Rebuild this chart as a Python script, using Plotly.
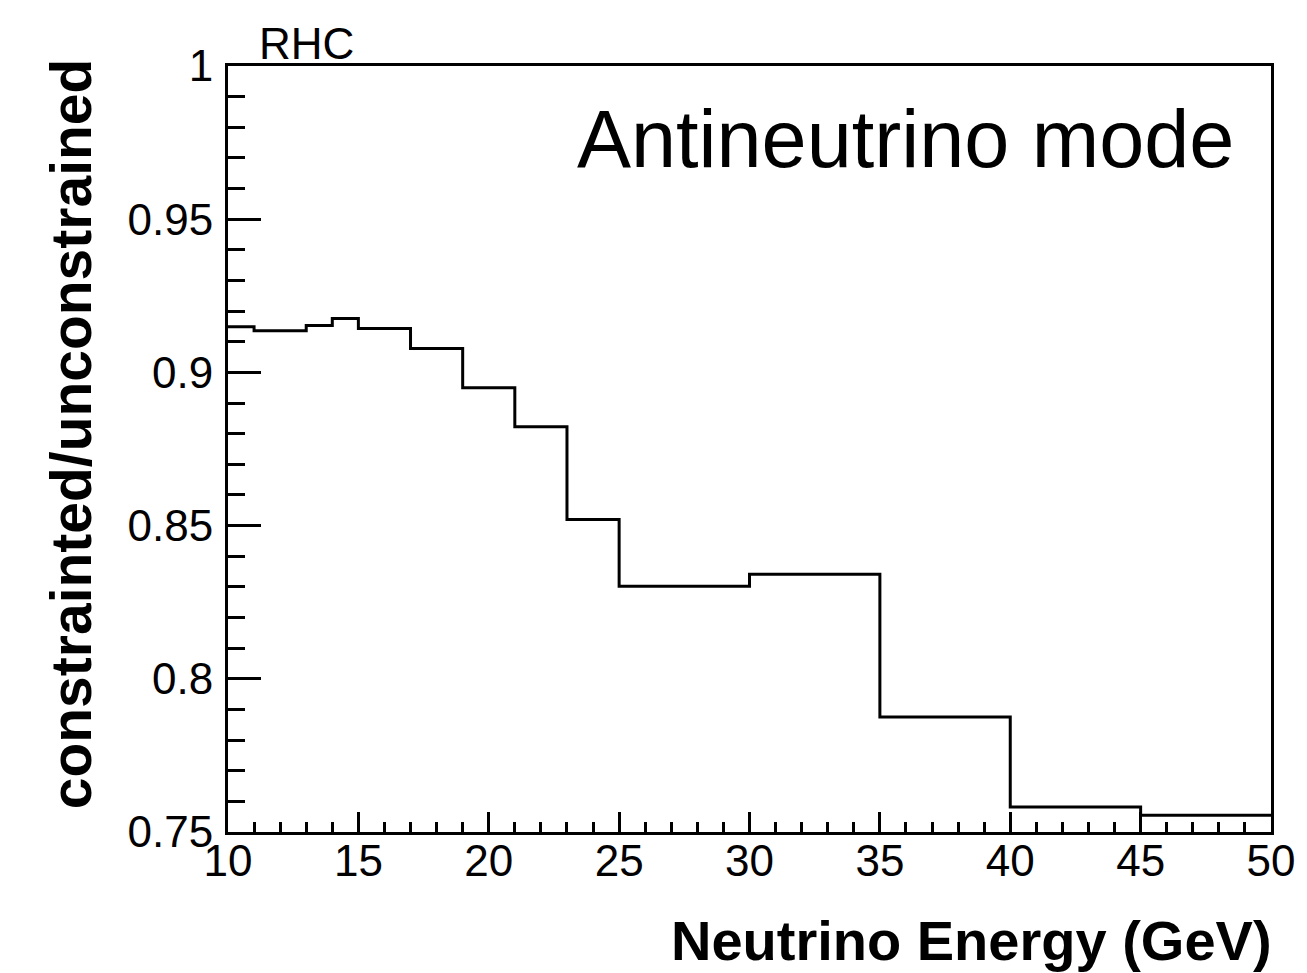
import plotly.graph_objects as go

# Bin edges (GeV) and ratio values per bin
bin_edges = [10, 11, 13, 14, 15, 17, 19, 21, 23, 25, 30, 35, 40, 45, 50]
ratio_values = [0.9149, 0.9136, 0.9153, 0.9176, 0.9143, 0.9078, 0.8950,
                0.8823, 0.8520, 0.8302, 0.8341, 0.7875, 0.7582, 0.7555]
x_tick_vals = [10, 15, 20, 25, 30, 35, 40, 45, 50]
x_tick_text = ["10", "15", "20", "25", "30", "35", "40", "45", "50"]
y_tick_vals = [0.75, 0.8, 0.85, 0.9, 0.95, 1.0]
y_tick_text = ["0.75", "0.8", "0.85", "0.9", "0.95", "1"]

x_title = "Neutrino Energy (GeV)"
y_title = "constrainted/unconstrained"
corner_label = "RHC"
mode_label = "Antineutrino mode"

W, H = 1307, 973
ML, MR, MT, MB = 228, 31, 66, 141
PW = W - ML - MR
PH = H - MT - MB

fig = go.Figure()
fig.add_trace(go.Scatter(
    x=bin_edges,
    y=ratio_values + [ratio_values[-1]],
    mode="lines",
    line=dict(shape="hv", color="black", width=3),
    showlegend=False,
    hoverinfo="skip",
))

tick_font = dict(family="Liberation Sans, Arial, sans-serif", size=44, color="black")

fig.update_layout(
    width=W, height=H, autosize=False,
    margin=dict(l=ML, r=MR, t=MT, b=MB, pad=0),
    paper_bgcolor="white", plot_bgcolor="white",
    xaxis=dict(
        range=[10, 50], tickmode="array", tickvals=x_tick_vals, ticktext=x_tick_text,
        ticks="inside", ticklen=20, tickwidth=2.5, tickcolor="black",
        minor=dict(dtick=1, ticks="inside", ticklen=10, tickwidth=2.5, tickcolor="black", showgrid=False),
        showline=True, linewidth=3, linecolor="black", mirror=True,
        showgrid=False, zeroline=False, tickfont=tick_font, ticklabelstandoff=-12,
    ),
    yaxis=dict(
        range=[0.75, 1.0], tickmode="array", tickvals=y_tick_vals, ticktext=y_tick_text,
        ticks="inside", ticklen=33, tickwidth=2.5, tickcolor="black",
        minor=dict(dtick=0.01, tick0=0.75, ticks="inside", ticklen=17, tickwidth=2.5, tickcolor="black", showgrid=False),
        showline=True, linewidth=3, linecolor="black", mirror=True,
        showgrid=False, zeroline=False, tickfont=tick_font, ticklabelstandoff=3,
    ),
)

def px_to_paper_x(px):
    return (px - ML) / PW

def px_to_paper_y(py):
    return (H - MB - py) / PH

# Axis titles
fig.add_annotation(
    text="<b>" + x_title + "</b>", xref="paper", yref="paper",
    x=px_to_paper_x(1279), y=px_to_paper_y(940), xanchor="right", yanchor="middle",
    showarrow=False, font=dict(family="Liberation Sans, Arial, sans-serif", size=56, color="black"),
)
fig.add_annotation(
    text="<b>" + y_title + "</b>", xref="paper", yref="paper",
    x=px_to_paper_x(70), y=px_to_paper_y(56), xanchor="center", yanchor="top",
    textangle=-90, showarrow=False,
    font=dict(family="Liberation Sans, Arial, sans-serif", size=57, color="black"),
)
# Corner label
fig.add_annotation(
    text=corner_label, xref="paper", yref="paper",
    x=px_to_paper_x(257), y=px_to_paper_y(44), xanchor="left", yanchor="middle",
    showarrow=False, font=dict(family="Liberation Sans, Arial, sans-serif", size=44, color="black"),
)
# Mode label
fig.add_annotation(
    text=mode_label, xref="paper", yref="paper",
    x=px_to_paper_x(1241), y=px_to_paper_y(139), xanchor="right", yanchor="middle",
    showarrow=False, font=dict(family="Liberation Sans, Arial, sans-serif", size=81, color="black"),
)

fig.write_html("out.html")
